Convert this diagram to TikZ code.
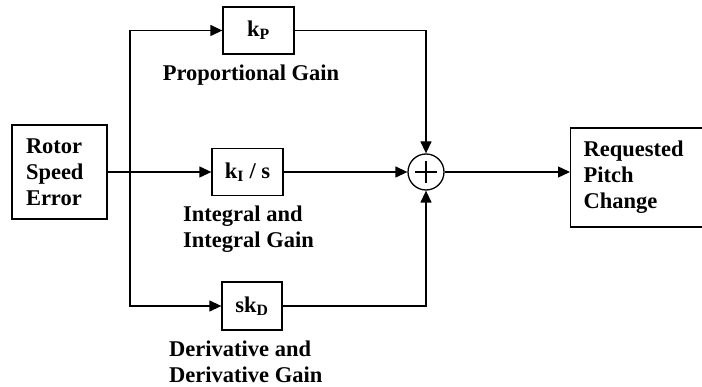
\documentclass[tikz,border=0pt]{standalone}
\usepackage{fontspec}
\setmainfont{Liberation Serif}
\usetikzlibrary{arrows.meta}
\begin{document}
\begin{tikzpicture}[x=1pt,y=-1pt,
  every node/.style={font=\fontsize{22.5}{26}\selectfont\bfseries},
  blk/.style={draw,line width=1.3pt,inner sep=0pt},
  lbl/.style={inner sep=0pt,align=left},
  conn/.style={line width=1.3pt},
  arr/.style={conn,-{Triangle[length=12pt,width=11pt]}}]
\useasboundingbox (0,0) rectangle (702,387);
\clip (0,0) rectangle (702,387);
\fill[white] (0,0) rectangle (702,387);
\node[blk,minimum width=95pt,minimum height=94pt,text width=67pt,inner xsep=14pt,align=left] (rotor) at (59.5,172) {Rotor\\Speed\\Error};
\node[blk,minimum width=71pt,minimum height=47pt] (kp) at (258.5,30.5) {k\textsubscript{P}};
\node[blk,minimum width=71pt,minimum height=47pt] (ki) at (247.5,172) {k\textsubscript{I} / s};
\node[blk,minimum width=60pt,minimum height=48pt] (kd) at (252,306) {sk\textsubscript{D}};
\node[draw,circle,line width=1.3pt,minimum size=36pt,inner sep=0pt] (sum) at (426,172) {};
\draw[line width=1.3pt] ([xshift=-11pt]sum.center) -- ([xshift=11pt]sum.center)
  ([yshift=-11pt]sum.center) -- ([yshift=11pt]sum.center);
\node[blk,anchor=west,minimum width=160pt,minimum height=99pt,text width=134pt,inner xsep=13pt,align=left] (req) at (570,177.5) {Requested\\Pitch\\Change};
\node[lbl] (lp) at (251,75) {Proportional Gain};
\node[lbl,anchor=west] (li) at (183,229.5) {Integral and\\Integral Gain};
\node[lbl,anchor=west] (ld) at (169,361.5) {Derivative and\\Derivative Gain};
\coordinate (br) at (130,172);
\draw[arr] (rotor.east) -- (ki.west);
\draw[arr] (br) |- (kp.west);
\draw[arr] (br) |- (kd.west);
\draw[arr] (kp.east) -| (sum.north);
\draw[arr] (ki.east) -- (sum.west);
\draw[arr] (kd.east) -| (sum.south);
\draw[arr] (sum.east) -- (sum.east -| req.west);
\end{tikzpicture}
\end{document}
